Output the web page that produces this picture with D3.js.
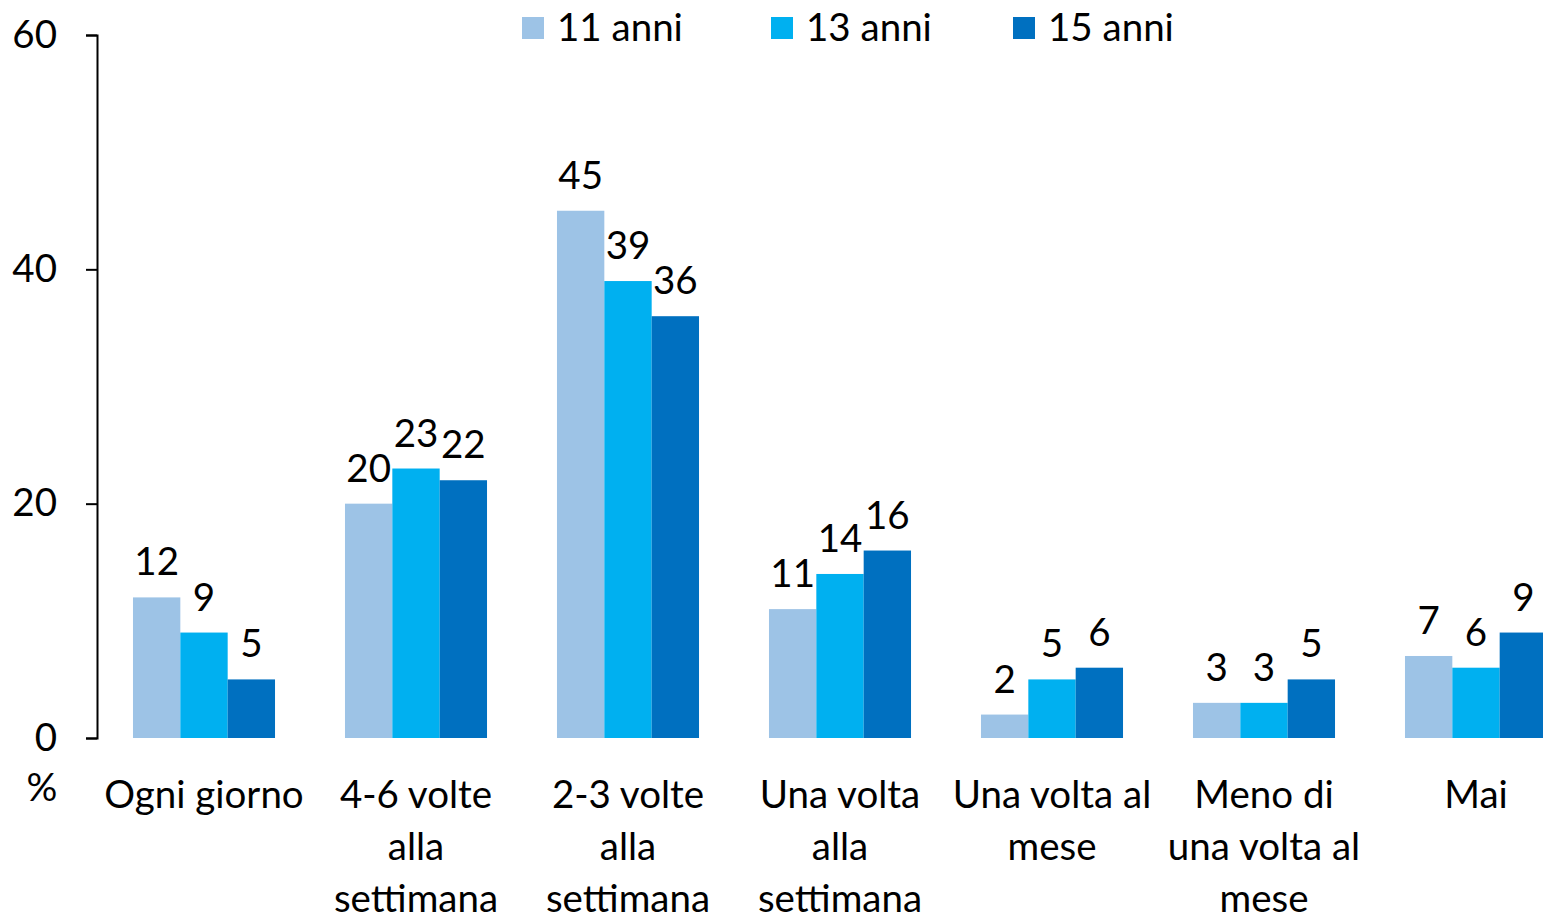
<!DOCTYPE html>
<html>
<head>
<meta charset="utf-8">
<script src="https://cdn.jsdelivr.net/npm/d3@7"></script>
<style>
  body { margin: 0; background: #fff; }
  svg text { font-family: Lato, 'Open Sans', sans-serif; fill: #000; }
</style>
</head>
<body>
<svg width="1543" height="916"></svg>
<script>
// categories and series
const categories = [
  ['Ogni giorno'],
  ['4-6 volte', 'alla', 'settimana'],
  ['2-3 volte', 'alla', 'settimana'],
  ['Una volta', 'alla', 'settimana'],
  ['Una volta al', 'mese'],
  ['Meno di', 'una volta al', 'mese'],
  ['Mai']
];
const seriesNames = ['11 anni', '13 anni', '15 anni'];
const anni11 = [12, 20, 45, 11, 2, 3, 7];
const anni13 = [9, 23, 39, 14, 5, 3, 6];
const anni15 = [5, 22, 36, 16, 6, 5, 9];
const yTicks = [0, 20, 40, 60];
const colors = ['#9DC3E6', '#00B0F0', '#0070C0'];

const series = [anni11, anni13, anni15];
const fontSize = 38.5;

const svg = d3.select('svg');

const x = d3.scaleBand()
    .domain(d3.range(categories.length))
    .range([98, 1582])
    .paddingInner(0.33)
    .paddingOuter(0.165);

const xs = d3.scaleBand()
    .domain(d3.range(series.length))
    .range([0, x.bandwidth()]);

const y = d3.scaleLinear().domain([0, 60]).range([738, 35]);

// y axis
const yAxis = svg.append('g')
    .attr('transform', 'translate(97,0)')
    .call(d3.axisLeft(y).tickValues(yTicks).tickSize(11).tickPadding(29));
yAxis.select('.domain').attr('stroke', '#000').attr('stroke-width', 2);
yAxis.selectAll('.tick line').attr('stroke', '#000').attr('stroke-width', 2);
yAxis.selectAll('.tick text')
    .style('font-size', fontSize + 'px')
    .style('font-family', 'Lato, sans-serif')
    .attr('fill', '#000');

svg.append('text')
    .attr('x', 42)
    .attr('y', 801)
    .attr('text-anchor', 'middle')
    .style('font-size', fontSize + 'px')
    .text('%');

// bars
const groups = svg.append('g').selectAll('g')
    .data(categories)
    .join('g')
    .attr('transform', (d, i) => `translate(${x(i)},0)`);

groups.each(function(c, i) {
  const g = d3.select(this);
  series.forEach((s, j) => {
    g.append('rect')
        .attr('x', xs(j))
        .attr('y', y(s[i]))
        .attr('width', xs.bandwidth())
        .attr('height', y(0) - y(s[i]))
        .attr('fill', colors[j]);
    g.append('text')
        .attr('x', xs(j) + xs.bandwidth() / 2)
        .attr('y', y(s[i]) - 22)
        .attr('text-anchor', 'middle')
        .style('font-size', fontSize + 'px')
        .text(s[i]);
  });
});

// category labels
groups.append('text')
    .attr('text-anchor', 'middle')
    .style('font-size', fontSize + 'px')
    .attr('x', x.bandwidth() / 2)
    .selectAll('tspan')
    .data((d) => d)
    .join('tspan')
    .attr('x', x.bandwidth() / 2)
    .attr('y', (d, i) => 808 + i * 52)
    .text((d) => d);

// legend
const legendX = [522, 771, 1013];
const legend = svg.append('g').selectAll('g')
    .data(seriesNames)
    .join('g')
    .attr('transform', (d, i) => `translate(${legendX[i]},17)`);
legend.append('rect')
    .attr('width', 22)
    .attr('height', 22)
    .attr('fill', (d, i) => colors[i]);
legend.append('text')
    .attr('x', 35)
    .attr('y', 24)
    .style('font-size', fontSize + 'px')
    .text((d) => d);
</script>
</body>
</html>
